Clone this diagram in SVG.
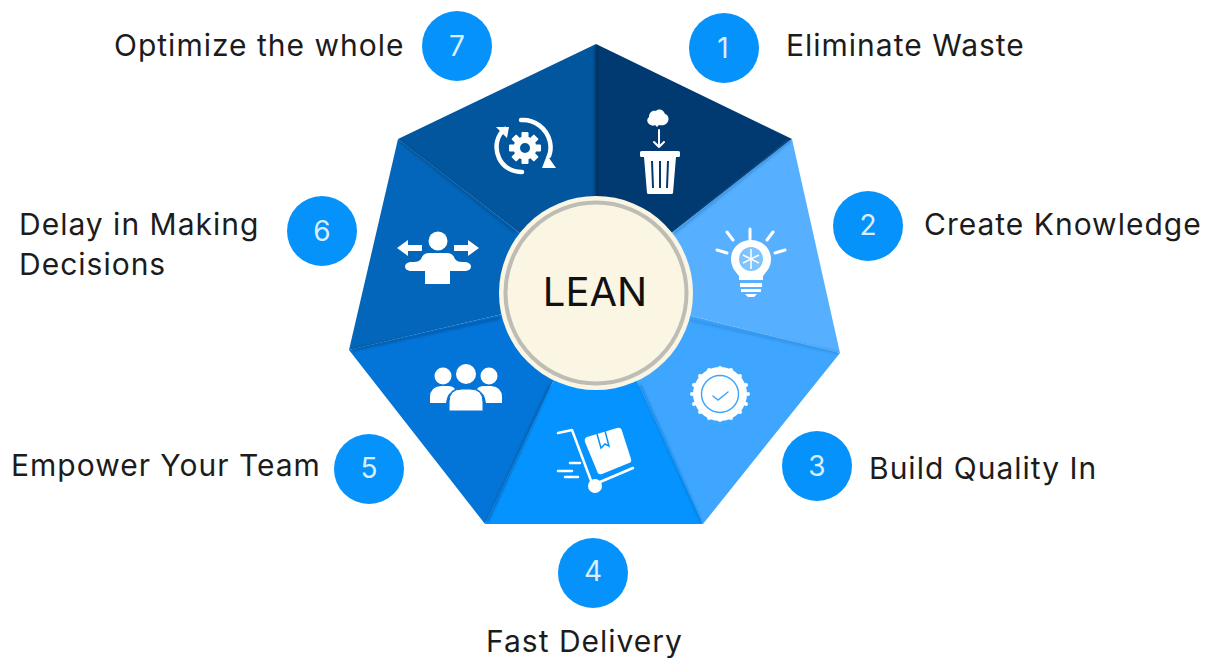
<svg xmlns="http://www.w3.org/2000/svg" width="1213" height="658" viewBox="0 0 1213 658">
<style>
.t{font-family:Inter,"Open Sans","Liberation Sans",sans-serif;font-size:30px;letter-spacing:1px;fill:#1c1c1c}
.n{font-family:Inter,"Open Sans","Liberation Sans",sans-serif;font-size:28px;fill:#d9eeff;text-anchor:middle}
.b{fill:#0692fb}
.w{fill:#fff}
.l{fill:none;stroke:#fff;stroke-linecap:round;stroke-linejoin:round}
</style>
<defs>
<filter id="s" x="-10%" y="-10%" width="120%" height="120%"><feGaussianBlur stdDeviation="1.2"/></filter>
<g id="gear"><g fill="#fff"><rect x="-3.500" y="-16" width="7" height="32" rx="1"/><rect x="-3.500" y="-16" width="7" height="32" rx="1" transform="rotate(45)"/><rect x="-3.500" y="-16" width="7" height="32" rx="1" transform="rotate(90)"/><rect x="-3.500" y="-16" width="7" height="32" rx="1" transform="rotate(135)"/></g><circle r="11.500" fill="#fff"/><circle r="5" fill="#02569e"/></g>
</defs>
<rect width="1213" height="658" fill="#fff"/>
<g id="connectors">
<polygon points="596,292 398,139 596,44" fill="#02569e"/>
<polygon points="596,292 596,44 792,139" fill="#003a70"/>
<polygon points="596,292 792,139 840,353" fill="#56b0ff"/>
<polygon points="596,292 840,353 703,524" fill="#3fa6ff"/>
<polygon points="596,292 703,524 485,524" fill="#0594ff"/>
<polygon points="596,292 485,524 349,350" fill="#0475d8"/>
<polygon points="596,292 349,350 398,139" fill="#0366ba"/>
<g fill="none" stroke-width="3" filter="url(#s)" opacity=".55">
<line x1="596" y1="46" x2="596" y2="200" stroke="#00274f"/>
<line x1="400" y1="141" x2="515" y2="232" stroke="#034a88"/>
<line x1="352" y1="350" x2="500" y2="318" stroke="#024a8c"/>
<line x1="487" y1="522" x2="550" y2="385" stroke="#03549e"/>
<line x1="701" y1="522" x2="640" y2="385" stroke="#0677d4"/>
<line x1="838" y1="353" x2="690" y2="320" stroke="#2a86d8"/>
<line x1="790" y1="141" x2="674" y2="233" stroke="#2e7fc8"/>
</g>
</g>
<g id="center">
<circle cx="596" cy="293" r="97" fill="#fbf6e3"/>
<circle cx="596" cy="293" r="90.500" fill="#fbf6e3" stroke="#bdbdb6" stroke-width="4"/>
<text x="595" y="306" font-family="Inter,Open Sans,Liberation Sans,sans-serif" font-size="40" fill="#111" text-anchor="middle">LEAN</text>
</g>
<g id="node1">
<circle class="b" cx="724" cy="48" r="35"/><text class="n" x="723" y="58">1</text>
<text class="t" x="786" y="56">Eliminate Waste</text>
<g id="icon1">
<path class="w" d="M651 125c-4-1-5-6-2-8 0-4 3-7 7-6 3-3 8-1 9 3 4 1 5 7 1 10-3 2-5 1-7 1l-2 2-2-2c-1 1-3 1-4 0z"/>
<path class="l" stroke-width="2" d="M659 130v17M654 142l5 5 5-5"/>
<rect class="w" x="640" y="151" width="40" height="6" rx="1.500"/>
<path class="w" d="M644 157h32l-3 36q0 1-2 1h-22q-2 0-2-1z"/>
<path d="M652 161l1 27M660 161v27M668 161l-1 27" stroke="#003a70" stroke-width="2" fill="none"/>
</g></g>
<g id="node2">
<circle class="b" cx="868" cy="226" r="35"/><text class="n" x="868" y="235">2</text>
<text class="t" x="924" y="235">Create Knowledge</text>
<g id="icon2">
<path class="l" stroke-width="3" d="M750 229v10M727 232l6 8M773 232l-6 8M717 250l10 3M785 250l-10 3"/>
<path class="w" d="M751 240c-11 0-20 8-20 19 0 8 4 12 8 17v4h24v-4c4-5 8-9 8-17 0-11-9-19-20-19z"/>
<circle cx="751" cy="259" r="12" fill="#56b0ff" opacity=".75"/>
<path d="M751 249v20M743 255l8 4 8-4M743 263l8-4 8 4" stroke="#fff" stroke-width="1.500" fill="none"/>
<path d="M740 283h22v4h-22zM741 289h20v3h-20zM745 294h12l-3 3h-6z" fill="#fff"/>
</g></g>
<g id="node3">
<circle class="b" cx="817" cy="466" r="35"/><text class="n" x="817" y="476">3</text>
<text class="t" x="869" y="479">Build Quality In</text>
<g id="icon3">
<circle class="w" cx="720" cy="394" r="27"/>
<g class="w"><circle cx="720" cy="368" r="2"/><circle cx="731" cy="370" r="2"/><circle cx="740" cy="376" r="2"/><circle cx="746" cy="385" r="2"/><circle cx="748" cy="394" r="2"/><circle cx="746" cy="404" r="2"/><circle cx="740" cy="412" r="2"/><circle cx="731" cy="418" r="2"/><circle cx="720" cy="420" r="2"/><circle cx="709" cy="418" r="2"/><circle cx="700" cy="412" r="2"/><circle cx="694" cy="404" r="2"/><circle cx="692" cy="394" r="2"/><circle cx="694" cy="385" r="2"/><circle cx="700" cy="376" r="2"/><circle cx="709" cy="370" r="2"/></g>
<circle cx="720" cy="394" r="18.500" fill="none" stroke="#3fa6ff" stroke-width="1.500"/>
<path d="M713 396l5 4 10-8" fill="none" stroke="#3fa6ff" stroke-width="1.500" stroke-linecap="round"/>
</g></g>
<g id="node4">
<circle class="b" cx="593" cy="573" r="35"/><text class="n" x="593" y="581">4</text>
<text class="t" x="486" y="652">Fast Delivery</text>
<g id="icon4">
<path class="l" stroke-width="2.500" d="M558 433l14-3 21 56M600 482l33-14"/>
<path class="l" stroke-width="2.500" d="M570 463h10M558 471h14M565 477h13"/>
<circle class="w" cx="595" cy="486" r="7"/>
<path class="w" d="M587 437l30-9q4-1 5 3l9 28q1 3-2 4l-27 11q-4 1-5-3l-12-29q-1-4 2-5z"/>
<path d="M597 434l4 14 4-4 4 2-4-15" fill="none" stroke="#0594ff" stroke-width="1.500"/>
</g></g>
<g id="node5">
<circle class="b" cx="369" cy="469" r="35"/><text class="n" x="369" y="478">5</text>
<text class="t" x="11" y="476">Empower Your Team</text>
<g id="icon5">
<circle class="w" cx="443" cy="376" r="8.500"/><circle class="w" cx="466" cy="374" r="10"/><circle class="w" cx="489" cy="376" r="8.500"/>
<path class="w" d="M430 403v-6q0-10 11-11h7q5 0 7 3-8 4-9 14z"/>
<path class="w" d="M502 403v-6q0-10-11-11h-7q-5 0-7 3 8 4 9 14z"/>
<path class="w" d="M449 411v-9q0-13 13-13h8q13 0 13 13v9z" stroke="#0475d8" stroke-width="1"/>
</g></g>
<g id="node6">
<circle class="b" cx="322" cy="231" r="35"/><text class="n" x="322" y="241">6</text>
<text class="t"><tspan x="19" y="235">Delay in Making</tspan><tspan x="19" y="275">Decisions</tspan></text>
<g id="icon6">
<circle class="w" cx="438" cy="241" r="9.500"/>
<path class="w" d="M429 253h18q6 0 8 6 2 3 7 3h4q5 1 5 4.500t-5 4.500h-16v13h-25v-13h-15q-5-1-5-4.500t5-4.500h4q5 0 7-3 2-6 8-6z"/>
<path class="w" d="M397 248l11-8v5h14v6h-14v5zM479 248l-11-8v5h-14v6h14v5z"/>
</g></g>
<g id="node7">
<circle class="b" cx="457" cy="46" r="35"/><text class="n" x="457" y="56">7</text>
<text class="t" x="114" y="56">Optimize the whole</text>
<g id="icon7">
<path class="l" stroke-width="4.500" d="M505 129c-8 6-11 18-6 29 4 9 13 14 23 14"/>
<path class="l" stroke-width="4.500" d="M521 120c13-1 26 8 29 22 1 5 1 9-1 14"/>
<path class="w" d="M496 127h13l-2 11zM542 168h14l-9-13z"/>
<use href="#gear" transform="translate(525 148)"/>
</g></g>
</svg>
